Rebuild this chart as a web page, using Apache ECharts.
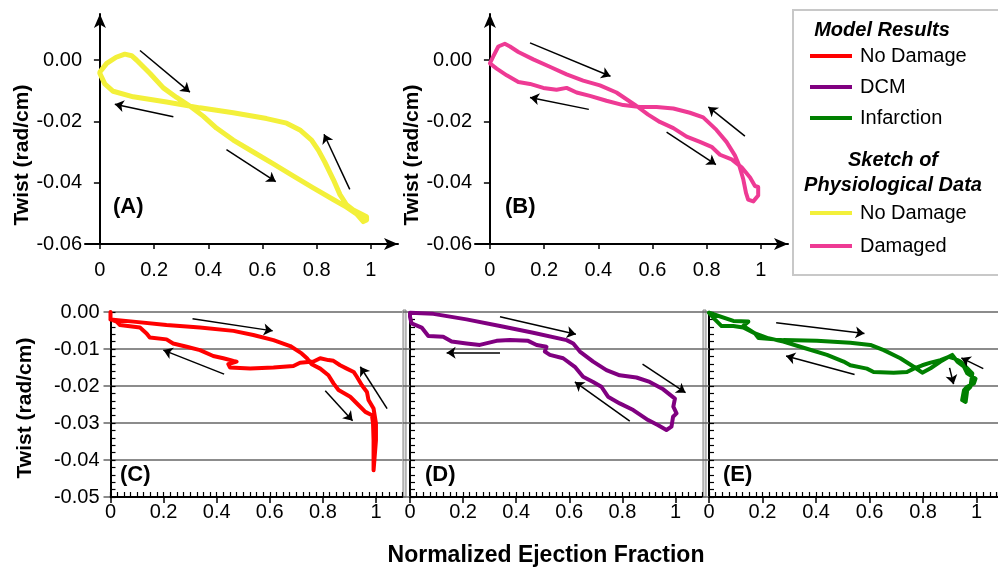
<!DOCTYPE html>
<html>
<head>
<meta charset="utf-8">
<title>Twist vs Normalized Ejection Fraction</title>
<script src="https://cdn.jsdelivr.net/npm/echarts@6/dist/echarts.min.js"></script>
<style>
  html, body { margin: 0; padding: 0; background: #fff; }
  #chart { width: 998px; height: 573px; }
</style>
</head>
<body>
<div id="chart"></div>
<script>
// tick values
const xTickValues = [0, 0.2, 0.4, 0.6, 0.8, 1]
const topTwistTicks = [-0.06, -0.04, -0.02, 0]

// (A) sketch of physiological data, no damage  [ejection fraction, twist]
const sketchNoDamage = [
  [0, -0.0039], [0.025, -0.0011], [0.06, 0.0009], [0.092, 0.0019], [0.117, 0.0014],
  [0.135, 0.0], [0.185, -0.0044], [0.234, -0.0091], [0.283, -0.0122], [0.332, -0.015],
  [0.381, -0.0183], [0.43, -0.0222], [0.492, -0.0261], [0.566, -0.03], [0.64, -0.0339],
  [0.713, -0.0378], [0.787, -0.0417], [0.861, -0.0455], [0.91, -0.048], [0.947, -0.0502],
  [0.972, -0.0527], [0.984, -0.0522], [0.984, -0.0511], [0.966, -0.0503], [0.935, -0.0489],
  [0.91, -0.0472], [0.886, -0.0439], [0.861, -0.0389], [0.83, -0.0333], [0.806, -0.0294],
  [0.781, -0.0261], [0.738, -0.0228], [0.689, -0.0206], [0.615, -0.0191], [0.492, -0.0172],
  [0.369, -0.0156], [0.246, -0.0137], [0.123, -0.012], [0.049, -0.0102], [0.018, -0.0078],
  [0, -0.0044]
]

// (B) sketch of physiological data, damaged
const sketchDamaged = [
  [0.012, 0.0011], [0.031, 0.0044], [0.055, 0.0053], [0.074, 0.0044], [0.105, 0.0026],
  [0.16, 0.0002], [0.221, -0.0022], [0.283, -0.0047], [0.344, -0.0067], [0.406, -0.0083],
  [0.467, -0.0106], [0.504, -0.0128], [0.541, -0.015], [0.584, -0.0178], [0.627, -0.0202],
  [0.677, -0.0222], [0.726, -0.025], [0.775, -0.0267], [0.818, -0.0283], [0.849, -0.0309],
  [0.892, -0.0324], [0.929, -0.035], [0.96, -0.0383], [0.978, -0.0411], [0.99, -0.0414],
  [0.99, -0.0442], [0.972, -0.0461], [0.953, -0.0455], [0.945, -0.0433], [0.935, -0.0389],
  [0.92, -0.0344], [0.904, -0.0311], [0.873, -0.0267], [0.836, -0.0228], [0.787, -0.0187],
  [0.738, -0.0172], [0.677, -0.0158], [0.615, -0.0153], [0.554, -0.0153], [0.492, -0.0147],
  [0.43, -0.0133], [0.369, -0.0117], [0.32, -0.0106], [0.283, -0.0091], [0.246, -0.0097],
  [0.197, -0.0091], [0.148, -0.0078], [0.105, -0.0072], [0.062, -0.005], [0.025, -0.0028],
  [0, -0.0011], [0.012, 0.0011]
]

// (C) model results, no damage
const modelNoDamage = [
  [0, 0], [0, -0.002], [0.086, -0.0026], [0.211, -0.0035], [0.337, -0.0042],
  [0.463, -0.0051], [0.538, -0.0062], [0.614, -0.0076], [0.677, -0.0092], [0.72, -0.0112],
  [0.74, -0.0125], [0.758, -0.0141], [0.79, -0.0153], [0.821, -0.0171], [0.84, -0.0193],
  [0.859, -0.0211], [0.903, -0.0229], [0.935, -0.0252], [0.96, -0.027], [0.985, -0.0279],
  [0.989, -0.0301], [0.991, -0.0347], [0.991, -0.0428], [0.997, -0.0428], [1.0, -0.0347],
  [1.0, -0.0301], [0.997, -0.0297], [0.991, -0.0261], [0.972, -0.0238], [0.966, -0.0216],
  [0.947, -0.0198], [0.928, -0.0175], [0.916, -0.0162], [0.89, -0.0153], [0.865, -0.0144],
  [0.84, -0.0132], [0.821, -0.013], [0.79, -0.0125], [0.765, -0.0134], [0.714, -0.0137],
  [0.689, -0.0146], [0.614, -0.015], [0.526, -0.0153], [0.45, -0.015], [0.444, -0.0141],
  [0.475, -0.0134], [0.463, -0.0132], [0.425, -0.0125], [0.387, -0.0119], [0.337, -0.0103],
  [0.287, -0.0094], [0.236, -0.0085], [0.211, -0.0074], [0.148, -0.0069], [0.136, -0.0058],
  [0.111, -0.0042], [0.035, -0.0035], [0.023, -0.0026], [0, -0.002]
]

// (D) model results, DCM
const modelDCM = [
  [0, -0.0002], [0.088, -0.0005], [0.213, -0.002], [0.339, -0.0038], [0.464, -0.0056],
  [0.59, -0.0076], [0.615, -0.0085], [0.64, -0.0107], [0.69, -0.0134], [0.74, -0.0157],
  [0.79, -0.0171], [0.853, -0.0177], [0.903, -0.0189], [0.954, -0.0209], [0.998, -0.0234],
  [0.992, -0.0256], [1.004, -0.0274], [0.991, -0.0283], [0.985, -0.031], [0.966, -0.0319],
  [0.935, -0.0306], [0.897, -0.0292], [0.841, -0.0265], [0.79, -0.0247], [0.746, -0.0229],
  [0.721, -0.0202], [0.69, -0.0189], [0.652, -0.0175], [0.621, -0.0148], [0.577, -0.0125],
  [0.527, -0.0116], [0.508, -0.0107], [0.514, -0.0094], [0.477, -0.0089], [0.445, -0.0078],
  [0.376, -0.0076], [0.326, -0.0078], [0.263, -0.0089], [0.213, -0.0085], [0.157, -0.008],
  [0.125, -0.0067], [0.069, -0.0065], [0.044, -0.0042], [0.006, -0.0031], [0, -0.0013],
  [0, -0.0002]
]

// (E) model results, infarction
const modelInfarction = [
  [0, -0.0002], [0.091, -0.0024], [0.147, -0.0026], [0.153, -0.0031], [0.128, -0.0038],
  [0.172, -0.0058], [0.185, -0.007], [0.278, -0.0076], [0.403, -0.0078], [0.528, -0.0083],
  [0.603, -0.0089], [0.653, -0.0103], [0.715, -0.0125], [0.765, -0.0148], [0.797, -0.0164],
  [0.828, -0.0152], [0.865, -0.0134], [0.896, -0.0121], [0.909, -0.0116], [0.928, -0.0134],
  [0.953, -0.0148], [0.965, -0.0166], [0.996, -0.018], [0.99, -0.0193], [0.965, -0.0202],
  [0.953, -0.0211], [0.946, -0.0238], [0.959, -0.0243], [0.965, -0.0211], [0.977, -0.0202],
  [0.984, -0.0166], [0.959, -0.0148], [0.94, -0.0134], [0.915, -0.0125], [0.896, -0.0121],
  [0.865, -0.013], [0.828, -0.0137], [0.797, -0.0144], [0.765, -0.0153], [0.74, -0.0162],
  [0.69, -0.0164], [0.615, -0.0162], [0.59, -0.0153], [0.528, -0.0144], [0.503, -0.0134],
  [0.441, -0.0116], [0.341, -0.0094], [0.278, -0.008], [0.222, -0.0071], [0.172, -0.0058],
  [0.128, -0.0042], [0.091, -0.0038], [0.047, -0.0038], [0.022, -0.002], [0, -0.0002]
]

// direction arrows per panel: [from, to]
const arrowsA = [
  [[0.148, 0.0031], [0.332, -0.0105]], [[0.271, -0.0185], [0.055, -0.0144]],
  [[0.467, -0.0292], [0.649, -0.0397]], [[0.922, -0.0422], [0.827, -0.0242]]
]
const arrowsB = [
  [[0.148, 0.0056], [0.445, -0.0053]], [[0.365, -0.0161], [0.148, -0.0122]],
  [[0.652, -0.0235], [0.834, -0.0341]], [[0.941, -0.0248], [0.806, -0.0153]]
]
const arrowsC = [
  [[0.309, -0.0018], [0.611, -0.0051]], [[0.428, -0.0168], [0.199, -0.0103]],
  [[0.809, -0.0213], [0.912, -0.0294]], [[1.042, -0.0261], [0.941, -0.0148]]
]
const arrowsD = [
  [[0.339, -0.0013], [0.625, -0.006]], [[0.339, -0.011], [0.138, -0.011]],
  [[0.876, -0.0141], [1.038, -0.0218]], [[0.828, -0.0295], [0.621, -0.0189]]
]
const arrowsE = [
  [[0.251, -0.0029], [0.581, -0.0058]], [[0.544, -0.0169], [0.288, -0.0119]],
  [[1.025, -0.0153], [0.943, -0.0124]], [[0.899, -0.0151], [0.914, -0.0195]]
]

const FONT = '"Liberation Sans", Arial, Helvetica, sans-serif'
const chart = echarts.init(document.getElementById('chart'))

// top panels: arrow-tipped axes crossing at the origin
function topXAxis (gridIndex) {
  return {
    type: 'value', gridIndex, min: -0.055, max: 1.1, position: 'bottom',
    axisLine: { onZero: false, symbol: ['none', 'arrow'], symbolSize: [9, 14], lineStyle: { color: '#000', width: 2 } },
    axisTick: { customValues: xTickValues, length: 5, lineStyle: { color: '#000', width: 1.5 } },
    axisLabel: { customValues: xTickValues, margin: 16, fontSize: 20, color: '#000', fontFamily: FONT },
    splitLine: { show: false }
  }
}
function topYAxis (gridIndex) {
  return {
    type: 'value', gridIndex, min: -0.06, max: 0.015,
    axisLine: { onZero: true, symbol: ['none', 'arrow'], symbolSize: [9, 14], lineStyle: { color: '#000', width: 2 } },
    axisTick: { customValues: topTwistTicks, length: 6, lineStyle: { color: '#000', width: 1.5 } },
    // labels stay anchored to the grid edge, which sits 15px left of the axis line
    axisLabel: {
      customValues: topTwistTicks, margin: 3, fontSize: 20, color: '#000', fontFamily: FONT,
      formatter: v => v.toFixed(2)
    },
    splitLine: { show: false }
  }
}

// bottom panels: major axis + a second axis carrying minor ticks only
function bottomXAxis (gridIndex, max) {
  return {
    type: 'value', gridIndex, min: 0, max, position: 'bottom',
    axisLine: { onZero: false, lineStyle: { color: '#000', width: 2 } },
    axisTick: { customValues: xTickValues, length: 6, lineStyle: { color: '#000', width: 1.5 } },
    axisLabel: { customValues: xTickValues, margin: 5, fontSize: 20, color: '#000', fontFamily: FONT },
    splitLine: { show: false }
  }
}
function bottomXMinor (gridIndex, max) {
  return {
    type: 'value', gridIndex, min: 0, max, interval: 0.025, position: 'bottom',
    axisLine: { show: false, onZero: false },
    axisTick: { inside: true, length: 5, lineStyle: { color: '#000', width: 1.2 } },
    axisLabel: { show: false },
    splitLine: { show: false }
  }
}
function bottomYAxis (gridIndex, showLabels) {
  return {
    type: 'value', gridIndex, min: -0.05, max: 0, interval: 0.01, position: 'left',
    axisLine: { onZero: false, lineStyle: { color: '#000', width: 2 } },
    axisTick: { length: 7, lineStyle: { color: '#666', width: 1.5 } },
    axisLabel: {
      show: showLabels, margin: 11, fontSize: 20, color: '#000', fontFamily: FONT,
      formatter: v => v.toFixed(2)
    },
    splitLine: { show: true, lineStyle: { color: '#666', width: 1.5 } }
  }
}
function bottomYMinor (gridIndex) {
  return {
    type: 'value', gridIndex, min: -0.05, max: 0, interval: 0.002, position: 'left',
    axisLine: { show: false, onZero: false },
    axisTick: { inside: true, length: 5, lineStyle: { color: '#000', width: 1.2 } },
    axisLabel: { show: false },
    splitLine: { show: false }
  }
}

function loopSeries (name, data, idx, color, width) {
  return {
    name, type: 'line', data, xAxisIndex: idx, yAxisIndex: idx,
    showSymbol: false, symbol: 'none', smooth: false, clip: false,
    itemStyle: { color },
    lineStyle: { color, width, cap: 'round', join: 'round' },
    z: 3
  }
}
function arrowSeries (data, idx) {
  return {
    type: 'lines', coordinateSystem: 'cartesian2d', xAxisIndex: idx, yAxisIndex: idx,
    data: data.map(c => ({ coords: c })),
    symbol: ['none', 'arrow'], symbolSize: 9, silent: true,
    lineStyle: { color: '#000', width: 1.5, opacity: 1, curveness: 0 },
    z: 4
  }
}

const panelLabel = (text, x, y) => ({
  type: 'text', x, y,
  style: { text, font: 'bold 22px ' + FONT, fill: '#000', align: 'left', verticalAlign: 'middle', textAlign: 'left', textVerticalAlign: 'middle' }
})
const twistName = (x, y) => ({
  type: 'text', x, y, rotation: Math.PI / 2,
  style: { text: 'Twist (rad/cm)', font: 'bold 21px ' + FONT, fill: '#000', align: 'center', verticalAlign: 'middle', textAlign: 'center', textVerticalAlign: 'middle' }
})
const centeredText = (text, x, y, font) => ({
  type: 'text', x, y,
  style: { text, font, fill: '#000', align: 'center', verticalAlign: 'middle', textAlign: 'center', textVerticalAlign: 'middle' }
})

const legendCommon = {
  orient: 'vertical', left: 805, icon: 'rect', itemWidth: 42, itemHeight: 4,
  itemGap: 11, selectedMode: false,
  textStyle: { fontSize: 20, color: '#000', fontFamily: FONT, padding: [0, 0, 0, 3] },
  formatter: name => name.replace(/^(Model|Sketch): /, '')
}

const option = {
  animation: false,
  backgroundColor: '#fff',
  grid: [
    { left: 85, top: 14, width: 313, height: 230 },
    { left: 475, top: 14, width: 313, height: 230 },
    { left: 110.5, top: 312, width: 292, height: 185 },
    { left: 410, top: 312, width: 292, height: 185 },
    { left: 709, top: 312, width: 289, height: 185 }
  ],
  xAxis: [
    topXAxis(0), topXAxis(1),
    bottomXAxis(2, 1.1), bottomXAxis(3, 1.1), bottomXAxis(4, 1.08),
    bottomXMinor(2, 1.1), bottomXMinor(3, 1.1), bottomXMinor(4, 1.08)
  ],
  yAxis: [
    topYAxis(0), topYAxis(1),
    bottomYAxis(2, true), bottomYAxis(3, false), bottomYAxis(4, false),
    bottomYMinor(2), bottomYMinor(3), bottomYMinor(4)
  ],
  legend: [
    Object.assign({}, legendCommon, { top: 41, data: ['Model: No Damage', 'Model: DCM', 'Model: Infarction'] }),
    Object.assign({}, legendCommon, { top: 198, itemGap: 13, data: ['Sketch: No Damage', 'Sketch: Damaged'] })
  ],
  series: [
    loopSeries('Sketch: No Damage', sketchNoDamage, 0, '#f3f03a', 5),
    loopSeries('Sketch: Damaged', sketchDamaged, 1, '#ee3a94', 4),
    loopSeries('Model: No Damage', modelNoDamage, 2, '#ff0000', 4),
    loopSeries('Model: DCM', modelDCM, 3, '#800080', 4),
    loopSeries('Model: Infarction', modelInfarction, 4, '#008000', 4),
    arrowSeries(arrowsA, 0), arrowSeries(arrowsB, 1), arrowSeries(arrowsC, 2),
    arrowSeries(arrowsD, 3), arrowSeries(arrowsE, 4)
  ],
  graphic: [
    // legend frame and headings
    { type: 'rect', shape: { x: 793, y: 10, width: 215, height: 265 }, style: { fill: 'none', stroke: '#c8c8c8', lineWidth: 2 }, z: -1 },
    centeredText('Model Results', 882, 30, 'italic bold 20px ' + FONT),
    centeredText('Sketch of', 893, 160, 'italic bold 20px ' + FONT),
    centeredText('Physiological Data', 893, 185, 'italic bold 20px ' + FONT),
    // panel separators in the bottom row
    { type: 'rect', shape: { x: 403, y: 310, width: 3, height: 187 }, style: { fill: '#ddd', stroke: '#888', lineWidth: 1 } },
    { type: 'rect', shape: { x: 703, y: 310, width: 3, height: 187 }, style: { fill: '#ddd', stroke: '#888', lineWidth: 1 } },
    twistName(22, 155), twistName(412, 155), twistName(25, 408),
    panelLabel('(A)', 113, 207), panelLabel('(B)', 505, 207),
    panelLabel('(C)', 120, 475), panelLabel('(D)', 425, 475), panelLabel('(E)', 723, 475),
    centeredText('Normalized Ejection Fraction', 546, 556, 'bold 23px ' + FONT)
  ]
}

chart.setOption(option)
</script>
</body>
</html>
